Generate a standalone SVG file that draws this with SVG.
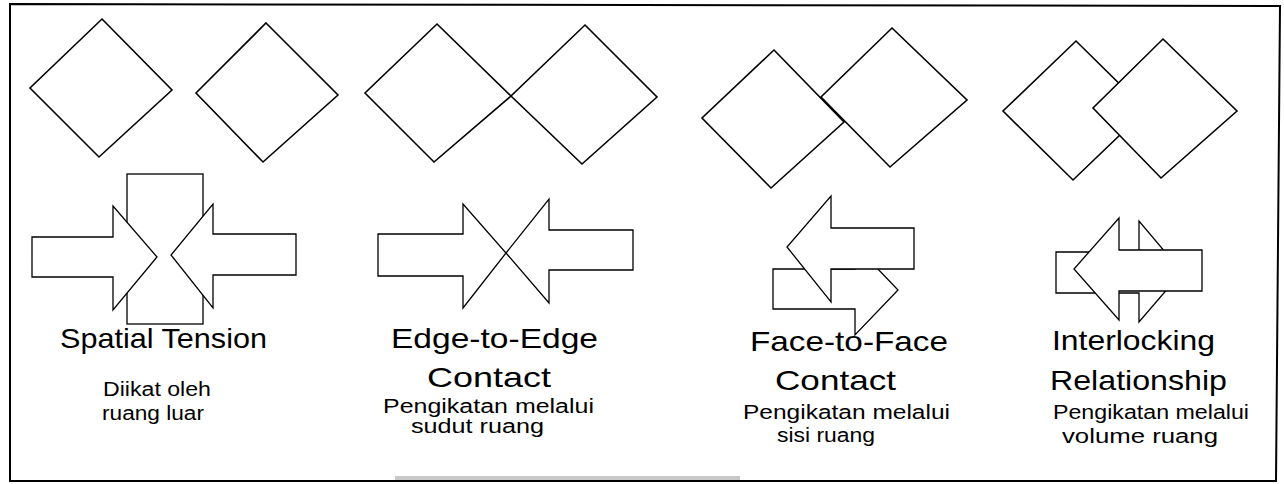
<svg xmlns="http://www.w3.org/2000/svg" width="1284" height="484" viewBox="0 0 1284 484">
<style>
.d{fill:#fff;stroke:#000;stroke-width:1.6;stroke-linejoin:miter}
.a{fill:#fff;stroke:#000;stroke-width:1.3;stroke-linejoin:miter}
.t{font-family:"Liberation Sans",Arial,sans-serif;font-size:28px;fill:#000}
.s{font-family:"Liberation Sans",Arial,sans-serif;font-size:20px;fill:#000}
</style>
<rect width="1284" height="484" fill="#fff"/>
<g id="frame">
<path d="M10,4 L1280,6 L1276,481 L10,481 Z" fill="none" stroke="#000" stroke-width="2"/>
<rect x="395" y="476" width="345" height="4" fill="#c8c8c8"/>
</g>
<g id="spatial-tension">
<polygon class="d" points="102,19 172,90 99,157 30,88"/>
<polygon class="d" points="266,23 338,95 263,162 196,93"/>
<rect class="a" x="127" y="174" width="76" height="150"/>
<path class="a" d="M32,237 H113 V206 L157,257 L113,310 V277 H32 Z"/>
<path class="a" d="M296,234 H213 V204 L171,255 L213,308 V275 H296 Z"/>
<text class="t" x="60" y="348" textLength="207" lengthAdjust="spacingAndGlyphs">Spatial Tension</text>
<text class="s" x="103" y="396" font-size="18" textLength="108" lengthAdjust="spacingAndGlyphs">Diikat oleh</text>
<text class="s" x="102" y="420" font-size="18" textLength="102" lengthAdjust="spacingAndGlyphs">ruang luar</text>
</g>
<g id="edge-to-edge">
<polygon class="d" points="437,24 511,96 434,162 365,93"/>
<polygon class="d" points="585,25 657,97 582,164 511,96"/>
<path class="a" d="M378,234 H463 V204 L506,253 L463,308 V276 H378 Z"/>
<path class="a" d="M633,230 H549 V199 L506,253 L549,303 V270 H633 Z"/>
<text class="t" x="391" y="348" textLength="207" lengthAdjust="spacingAndGlyphs">Edge-to-Edge</text>
<text class="t" x="427" y="387" textLength="124" lengthAdjust="spacingAndGlyphs">Contact</text>
<text class="s" x="383" y="413" textLength="211" lengthAdjust="spacingAndGlyphs">Pengikatan melalui</text>
<text class="s" x="411" y="433" textLength="133" lengthAdjust="spacingAndGlyphs">sudut ruang</text>
</g>
<g id="face-to-face">
<polygon class="d" points="774,50 844,122 771,188 702,118"/>
<polygon class="d" points="892,28 967,100 890,167 821,97"/>
<path class="a" d="M773,269 H855 V245 L898,290 L855,335 V309 H773 Z"/>
<path class="a" d="M914,228 H831 V196 L787,247 L831,302 V269 H914 Z"/>
<text class="t" x="750" y="351" textLength="198" lengthAdjust="spacingAndGlyphs">Face-to-Face</text>
<text class="t" x="775" y="390" textLength="121" lengthAdjust="spacingAndGlyphs">Contact</text>
<text class="s" x="743" y="419" textLength="207" lengthAdjust="spacingAndGlyphs">Pengikatan melalui</text>
<text class="s" x="777" y="442" textLength="98" lengthAdjust="spacingAndGlyphs">sisi ruang</text>
</g>
<g id="interlocking">
<polygon class="d" points="1076,41 1146,110 1073,180 1003,111"/>
<polygon class="d" points="1163,39 1237,111 1161,178 1093,108"/>
<path class="a" d="M1056,252 H1139 V221 L1182,272 L1139,322 V293 H1056 Z"/>
<path class="a" d="M1202,250 H1119 V218 L1074,269 L1119,320 V291 H1202 Z"/>
<text class="t" x="1052" y="350" textLength="163" lengthAdjust="spacingAndGlyphs">Interlocking</text>
<text class="t" x="1050" y="390" textLength="177" lengthAdjust="spacingAndGlyphs">Relationship</text>
<text class="s" x="1053" y="419" textLength="196" lengthAdjust="spacingAndGlyphs">Pengikatan melalui</text>
<text class="s" x="1062" y="443" textLength="156" lengthAdjust="spacingAndGlyphs">volume ruang</text>
</g>
<g id="connectors"/>
</svg>
